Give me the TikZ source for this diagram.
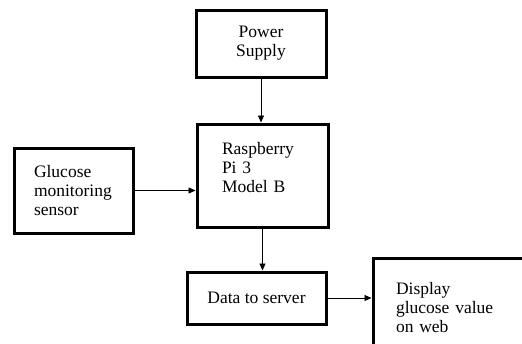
\documentclass[tikz,border=0pt]{standalone}
\usepackage{fontspec}
\setmainfont{Liberation Serif}
\usetikzlibrary{arrows.meta,positioning}

\begin{document}
\begin{tikzpicture}[
  x=1pt,y=-1pt,
  every node/.style={font=\fontsize{17.5}{19}\selectfont},
  blockbox/.style={draw,line width=3pt,inner ysep=0pt},
  leftbox/.style={blockbox,align=left},
  arr/.style={-{Triangle[length=7pt,width=6pt]},line width=0.9pt}
]
\clip (0,0) rectangle (522,343);
\fill[white] (0,0) rectangle (522,343);
% power source on top
\node[blockbox,align=center,minimum width=130pt,minimum height=67pt] (ps) at (261,43.5) {Power\\Supply};
% controller
\node[leftbox,text width=81pt,inner xsep=25pt,minimum height=103pt,text depth=54pt] (rpi) at (262.5,175.5) {Raspberry\\Pi 3\\Model B};
% sensor input
\node[leftbox,text width=79pt,inner xsep=20pt,minimum height=85pt] (gl) at (73.5,190.5) {Glucose\\monitoring\\sensor};
% output chain
\node[blockbox,align=center,minimum width=139pt,minimum height=52pt] (data) at (256.5,298) {Data to server};
\node[leftbox,text width=124pt,inner xsep=23pt,minimum height=100pt] (disp) at (458,308) {Display\\glucose value\\on web};
% links
\draw[arr] (ps.south) -- (ps.south |- rpi.north);
\draw[arr] (gl.east) -- (gl.east -| rpi.west);
\draw[arr] (rpi.south) -- (rpi.south |- data.north);
\draw[arr] (data.east) -- (data.east -| disp.west);
\end{tikzpicture}
\end{document}
